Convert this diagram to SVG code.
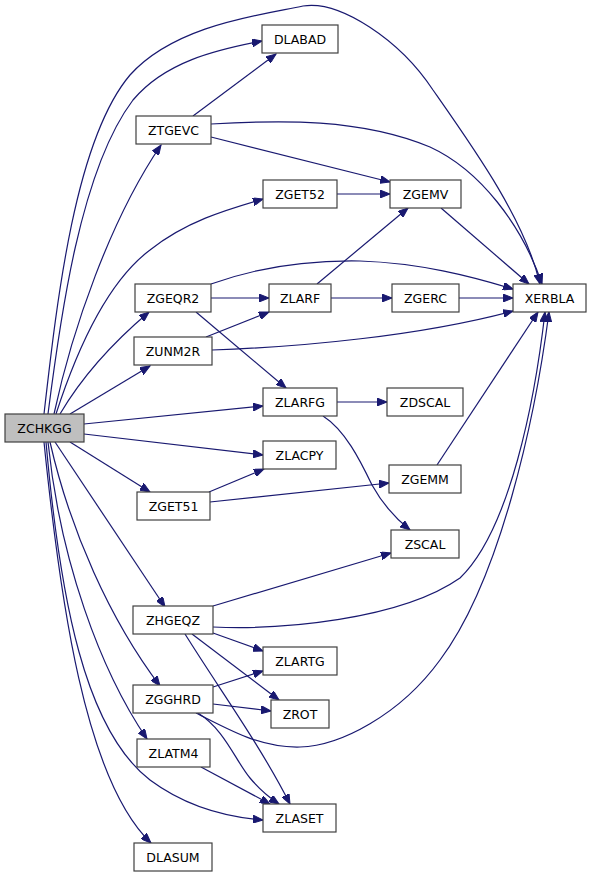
<svg xmlns="http://www.w3.org/2000/svg" width="592" height="877" viewBox="0 0 592 877">
<defs>
<style>
.n rect{fill:#ffffff;stroke:#404040;stroke-width:1.2}
.n text{font-family:"DejaVu Sans","Liberation Sans",sans-serif;font-size:12.5px;fill:#000000;text-anchor:middle}
.root rect{fill:#bfbfbf}
.e path{fill:none;stroke:#191970;stroke-width:1.2;marker-end:url(#ah)}
</style>
<marker id="ah" markerUnits="userSpaceOnUse" markerWidth="11" markerHeight="8" refX="10" refY="4" orient="auto">
<path d="M0,0 L10,4 L0,8 z" fill="#191970" stroke="#191970" stroke-width="1"/>
</marker>
</defs>
<rect width="592" height="877" fill="#ffffff"/>
<g id="edges" class="e">
<path d="M44,414 C57,300 75,140 130,75 C175,25 260,15 303,6 C340,0 400,40 433,90 C475,150 525,220 540,284"/>
<path d="M48,414 C60,320 80,170 133,100 C165,62 215,50 262,41"/>
<path d="M54,414 C72,330 110,220 161,145"/>
<path d="M56,414 C80,340 110,280 150,250 C185,222 225,210 263,199"/>
<path d="M60,414 C80,380 110,345 149,312"/>
<path d="M70,414 L150,366"/>
<path d="M84,424 L263,406"/>
<path d="M84,434 L263,455"/>
<path d="M70,442 L150,492"/>
<path d="M55,442 L165,607"/>
<path d="M50,442 C70,530 110,620 160,686"/>
<path d="M48,442 C60,560 100,670 147,739"/>
<path d="M46,442 C60,600 85,730 150,780 C185,806 225,817 263,820"/>
<path d="M44,442 C60,600 85,780 151,843"/>
<path d="M193,116 L276,54"/>
<path d="M211,124 C280,120 360,118 430,147 C480,170 522,225 542,284"/>
<path d="M211,137 L390,182"/>
<path d="M337,194 L390,194"/>
<path d="M441,208 L529,284"/>
<path d="M211,284 C250,270 300,260 360,261 C420,263 470,276 513,289"/>
<path d="M211,298 L269,298"/>
<path d="M196,312 L286,388"/>
<path d="M317,284 L408,208"/>
<path d="M331,298 L392,298"/>
<path d="M459,298 L513,298"/>
<path d="M206,337 L269,312"/>
<path d="M212,350 C300,347 420,336 513,311"/>
<path d="M337,402 L387,402"/>
<path d="M323,416 C345,430 360,460 372,485 C383,505 395,518 410,530"/>
<path d="M437,465 L538,312"/>
<path d="M209,492 L264,469"/>
<path d="M210,502 L389,483"/>
<path d="M213,606 L391,553"/>
<path d="M213,627 C280,630 400,620 460,578 C510,530 535,400 545,312"/>
<path d="M213,633 L263,651"/>
<path d="M192,634 L279,700"/>
<path d="M185,634 C220,690 260,745 290,804"/>
<path d="M213,687 L263,671"/>
<path d="M213,704 L271,711"/>
<path d="M196,713 C230,730 260,748 300,747 C340,746 400,715 440,660 C500,580 535,420 549,312"/>
<path d="M198,713 C225,730 235,760 250,778 C260,790 270,798 279,804"/>
<path d="M201,767 L270,804"/>
</g>
<g id="ZCHKGG" class="n root"><rect x="5" y="414" width="79" height="28"/><text x="44.5" y="432.5">ZCHKGG</text></g>
<g id="DLABAD" class="n"><rect x="262" y="25" width="76" height="28"/><text x="300" y="43.5">DLABAD</text></g>
<g id="ZTGEVC" class="n"><rect x="136" y="116" width="75" height="28"/><text x="173.5" y="134.5">ZTGEVC</text></g>
<g id="ZGET52" class="n"><rect x="263" y="180" width="74" height="28"/><text x="300" y="198.5">ZGET52</text></g>
<g id="ZGEMV" class="n"><rect x="390" y="180" width="71" height="28"/><text x="425.5" y="198.5">ZGEMV</text></g>
<g id="XERBLA" class="n"><rect x="513" y="284" width="73" height="28"/><text x="549.5" y="302.5">XERBLA</text></g>
<g id="ZGEQR2" class="n"><rect x="135" y="284" width="76" height="28"/><text x="173" y="302.5">ZGEQR2</text></g>
<g id="ZLARF" class="n"><rect x="269" y="284" width="62" height="28"/><text x="300" y="302.5">ZLARF</text></g>
<g id="ZGERC" class="n"><rect x="392" y="284" width="67" height="28"/><text x="425.5" y="302.5">ZGERC</text></g>
<g id="ZUNM2R" class="n"><rect x="134" y="337" width="78" height="28"/><text x="173" y="355.5">ZUNM2R</text></g>
<g id="ZLARFG" class="n"><rect x="263" y="388" width="74" height="28"/><text x="300" y="406.5">ZLARFG</text></g>
<g id="ZDSCAL" class="n"><rect x="387" y="388" width="76" height="28"/><text x="425" y="406.5">ZDSCAL</text></g>
<g id="ZLACPY" class="n"><rect x="263" y="441" width="73" height="28"/><text x="299.5" y="459.5">ZLACPY</text></g>
<g id="ZGEMM" class="n"><rect x="389" y="465" width="72" height="28"/><text x="425" y="483.5">ZGEMM</text></g>
<g id="ZGET51" class="n"><rect x="137" y="492" width="73" height="28"/><text x="173.5" y="510.5">ZGET51</text></g>
<g id="ZSCAL" class="n"><rect x="391" y="530" width="68" height="28"/><text x="425" y="548.5">ZSCAL</text></g>
<g id="ZHGEQZ" class="n"><rect x="133" y="606" width="80" height="28"/><text x="173" y="624.5">ZHGEQZ</text></g>
<g id="ZLARTG" class="n"><rect x="263" y="647" width="74" height="28"/><text x="300" y="665.5">ZLARTG</text></g>
<g id="ZGGHRD" class="n"><rect x="133" y="685" width="80" height="28"/><text x="173" y="703.5">ZGGHRD</text></g>
<g id="ZROT" class="n"><rect x="271" y="700" width="58" height="28"/><text x="300" y="718.5">ZROT</text></g>
<g id="ZLATM4" class="n"><rect x="137" y="739" width="73" height="28"/><text x="173.5" y="757.5">ZLATM4</text></g>
<g id="ZLASET" class="n"><rect x="263" y="804" width="73" height="28"/><text x="299.5" y="822.5">ZLASET</text></g>
<g id="DLASUM" class="n"><rect x="134" y="843" width="78" height="28"/><text x="173" y="861.5">DLASUM</text></g>
</svg>
